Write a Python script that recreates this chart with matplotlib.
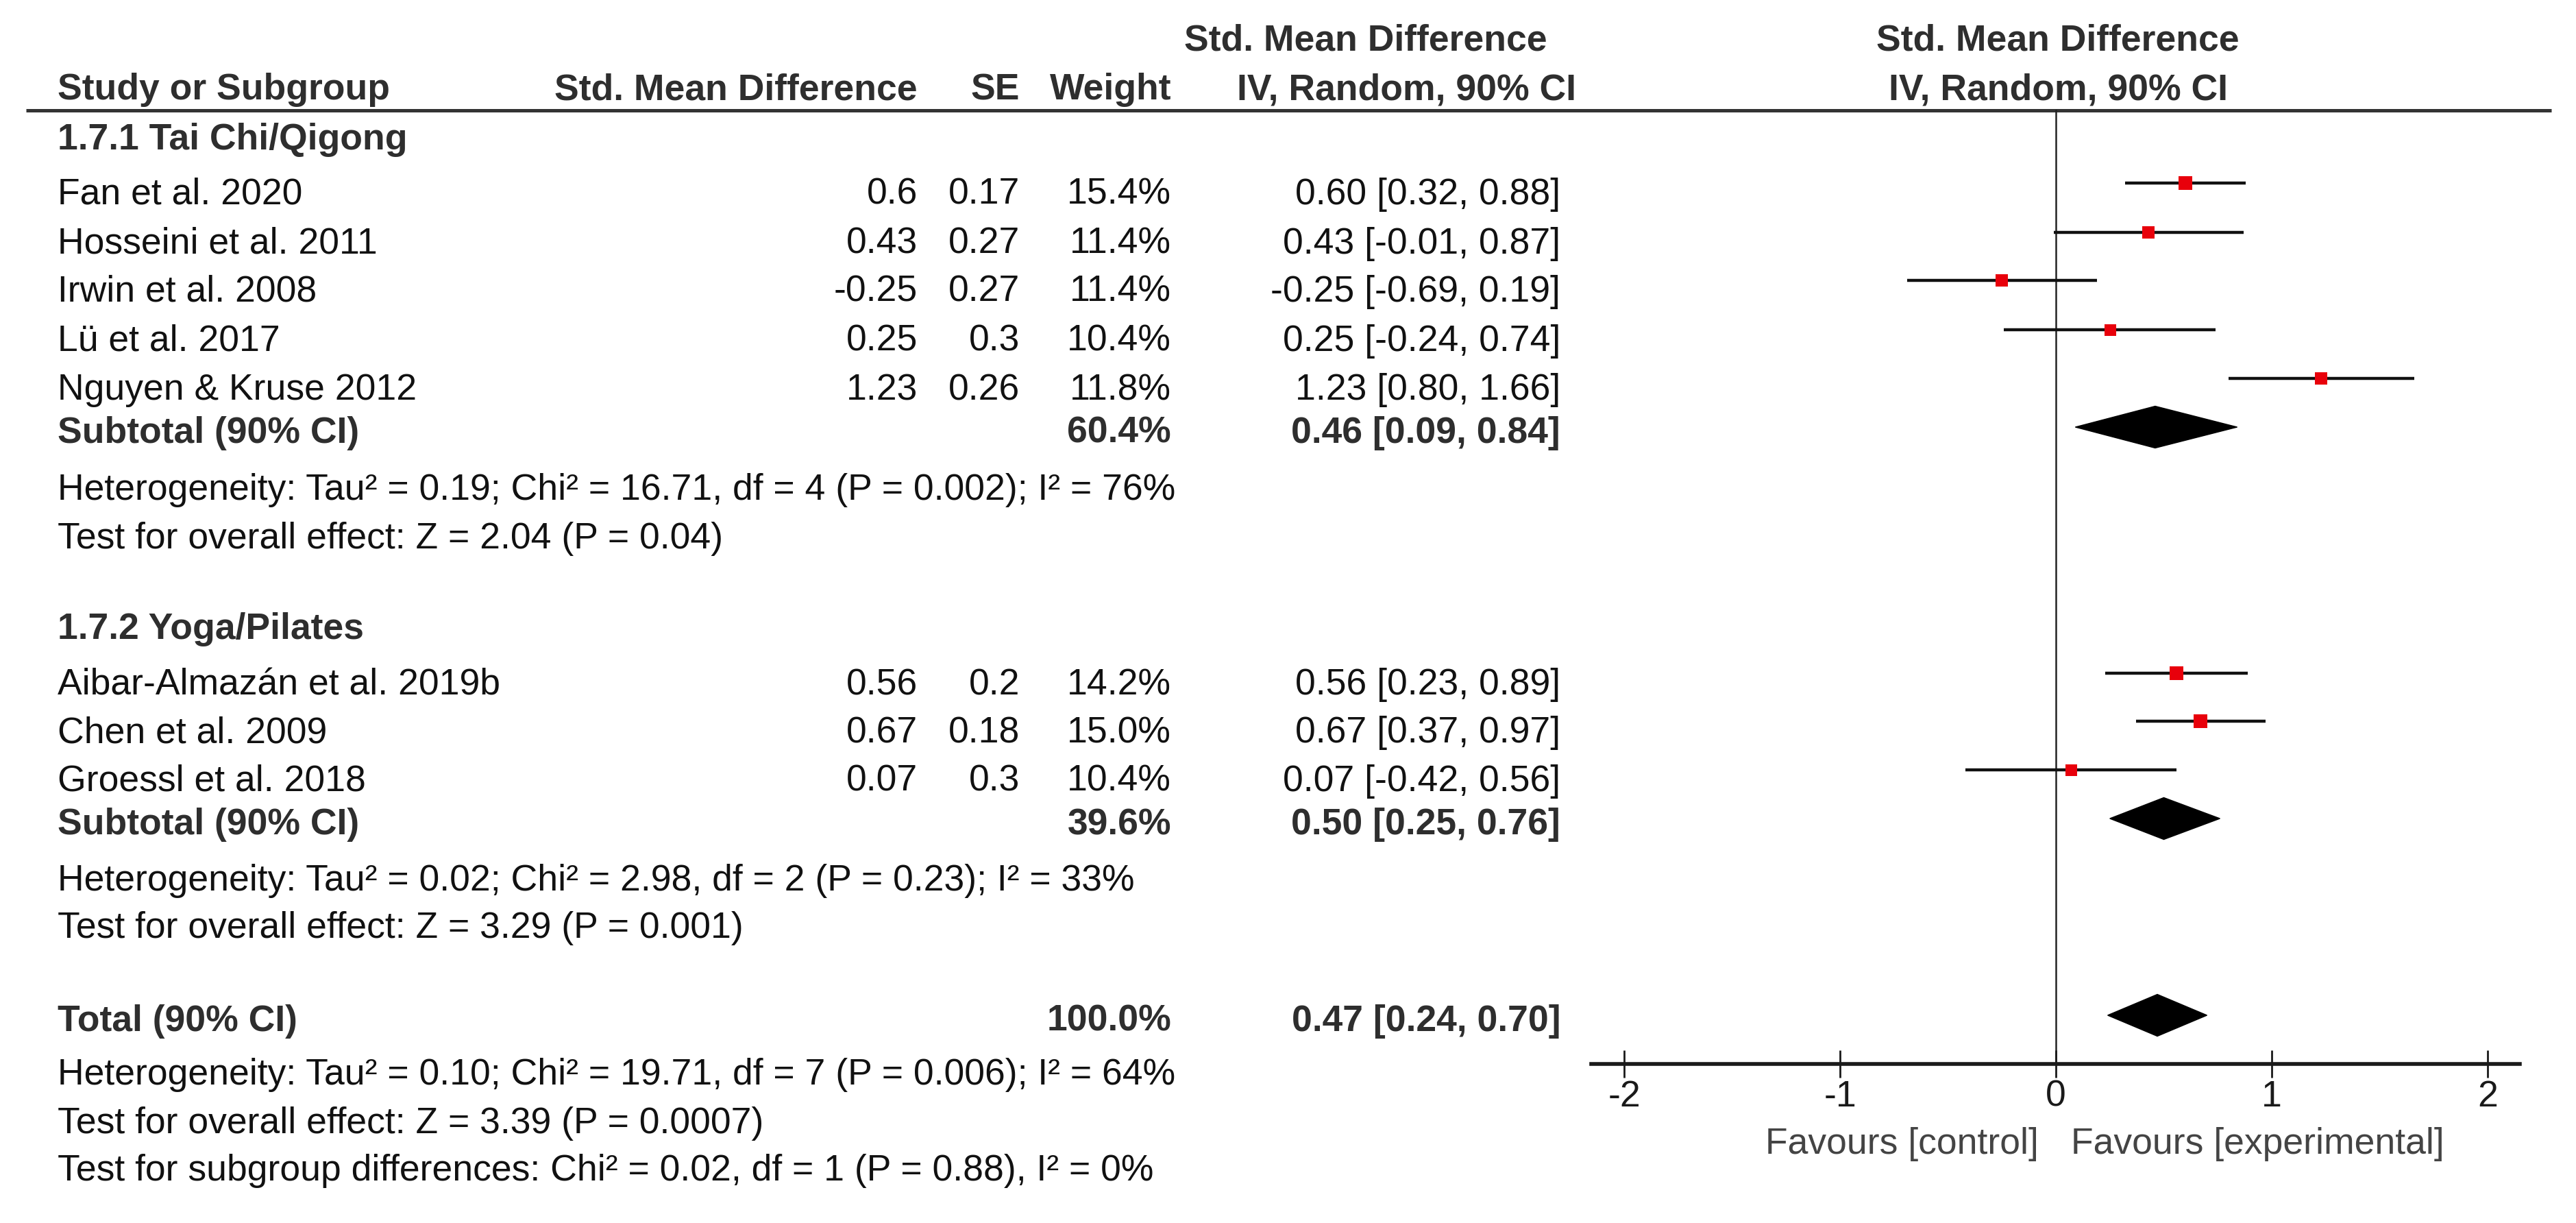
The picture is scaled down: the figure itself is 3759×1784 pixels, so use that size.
import matplotlib.pyplot as plt
from matplotlib.patches import Polygon

plt.rcParams['font.family'] = ['Liberation Sans', 'DejaVu Sans']

# study level data
studies = ['Fan et al. 2020', 'Hosseini et al. 2011', 'Irwin et al. 2008', 'Lü et al. 2017',
           'Nguyen & Kruse 2012', 'Aibar-Almazán et al. 2019b', 'Chen et al. 2009', 'Groessl et al. 2018']
smd = [0.6, 0.43, -0.25, 0.25, 1.23, 0.56, 0.67, 0.07]
se = [0.17, 0.27, 0.27, 0.3, 0.26, 0.2, 0.18, 0.3]
weight = [15.4, 11.4, 11.4, 10.4, 11.8, 14.2, 15.0, 10.4]
ci_low = [0.32, -0.01, -0.69, -0.24, 0.80, 0.23, 0.37, -0.42]
ci_high = [0.88, 0.87, 0.19, 0.74, 1.66, 0.89, 0.97, 0.56]

# subgroups / pooled estimates
subgroups = ['1.7.1 Tai Chi/Qigong', '1.7.2 Yoga/Pilates']
pooled_labels = ['Subtotal (90% CI)', 'Subtotal (90% CI)', 'Total (90% CI)']
pooled_est = [0.46, 0.50, 0.47]
pooled_low = [0.09, 0.25, 0.24]
pooled_high = [0.84, 0.76, 0.70]
pooled_weight = [60.4, 39.6, 100.0]

notes_1 = ['Heterogeneity: Tau² = 0.19; Chi² = 16.71, df = 4 (P = 0.002); I² = 76%',
           'Test for overall effect: Z = 2.04 (P = 0.04)']
notes_2 = ['Heterogeneity: Tau² = 0.02; Chi² = 2.98, df = 2 (P = 0.23); I² = 33%',
           'Test for overall effect: Z = 3.29 (P = 0.001)']
notes_tot = ['Heterogeneity: Tau² = 0.10; Chi² = 19.71, df = 7 (P = 0.006); I² = 64%',
             'Test for overall effect: Z = 3.39 (P = 0.0007)',
             'Test for subgroup differences: Chi² = 0.02, df = 1 (P = 0.88), I² = 0%']

xticks = [-2, -1, 0, 1, 2]

# layout (pixel baselines of each text row)
W, H = 3759, 1784
study_rows = [298, 370, 440, 512, 583, 1013, 1083, 1154]
subgroup_rows = [218, 932]
pooled_rows = [646, 1217, 1504]
notes_rows = [[729, 800], [1299, 1368], [1582, 1653, 1722]]
X_NAME, X_SMD, X_SE, X_W, X_CI = 84, 1339, 1488, 1709, 2277
FS = 38.5
TXT = '#111111'
HDR = '#2e2e2e'

fig = plt.figure(figsize=(W / 100, H / 100), dpi=100)
tab = fig.add_axes([0, 0, 1, 1])
tab.set_xlim(0, W)
tab.set_ylim(H, 0)
tab.axis('off')

# forest panel, y in the same pixel units as the table
AX_L, AX_R, AX_TOP, AX_BOT = 2322, 3677, 160, 1552
ax = fig.add_axes([AX_L / W, 1 - AX_BOT / H, (AX_R - AX_L) / W, (AX_BOT - AX_TOP) / H])
ax.set_xlim((AX_L - 3000) / 315, (AX_R - 3000) / 315)
ax.set_ylim(AX_BOT, AX_TOP)
ax.patch.set_alpha(0)


def t(x, y, s, ha='left', bold=False, color=TXT):
    tab.text(x, y, s, ha=ha, va='baseline', fontsize=FS,
             fontweight='bold' if bold else 'normal', color=color)


# headers
t(2258, 73, 'Std. Mean Difference', ha='right', bold=True, color=HDR)
t(3003, 73, 'Std. Mean Difference', ha='center', bold=True, color=HDR)
t(X_NAME, 145, 'Study or Subgroup', bold=True, color=HDR)
t(X_SMD, 145, 'Std. Mean Difference', ha='right', bold=True, color=HDR)
t(X_SE, 145, 'SE', ha='right', bold=True, color=HDR)
t(X_W, 145, 'Weight', ha='right', bold=True, color=HDR)
t(2300, 145, 'IV, Random, 90% CI', ha='right', bold=True, color=HDR)
t(3003, 145, 'IV, Random, 90% CI', ha='center', bold=True, color=HDR)
tab.plot([38, 3723], [161, 161], color='#333333', lw=3.6, solid_capstyle='butt')

for name, y in zip(subgroups, subgroup_rows):
    t(X_NAME, y, name, bold=True, color=HDR)

# studies
for i, name in enumerate(studies):
    y = study_rows[i]
    t(X_NAME, y, name)
    t(X_SMD, y, f'{smd[i]:g}', ha='right')
    t(X_SE, y, f'{se[i]:g}', ha='right')
    t(X_W, y, f'{weight[i]:.1f}%', ha='right')
    t(X_CI, y, f'{smd[i]:.2f} [{ci_low[i]:.2f}, {ci_high[i]:.2f}]', ha='right')
    ym = y - 31
    ax.plot([ci_low[i], ci_high[i]], [ym, ym], color='#111111', lw=3.2, solid_capstyle='butt', zorder=3)
    side = 17 * (weight[i] / 10.4) ** 0.5
    ax.plot(smd[i], ym, marker='s', color='#e8000b', markersize=side * 0.72,
            markeredgewidth=0, zorder=4)

# pooled rows
for i, lab in enumerate(pooled_labels):
    y = pooled_rows[i]
    t(X_NAME, y, lab, bold=True, color=HDR)
    t(X_W, y, f'{pooled_weight[i]:.1f}%', ha='right', bold=True, color=HDR)
    t(X_CI, y, f'{pooled_est[i]:.2f} [{pooled_low[i]:.2f}, {pooled_high[i]:.2f}]',
      ha='right', bold=True, color=HDR)
    yd = y - 23
    ax.add_patch(Polygon([[pooled_low[i], yd], [pooled_est[i], yd - 30.5],
                          [pooled_high[i], yd], [pooled_est[i], yd + 30.5]],
                         closed=True, color='black', zorder=4))

for lines, ys in zip([notes_1, notes_2, notes_tot], notes_rows):
    for s, y in zip(lines, ys):
        t(X_NAME, y, s)

# axis styling
ax.axvline(0, color='#222222', lw=1.8, zorder=1)
for side_name in ['top', 'left', 'right']:
    ax.spines[side_name].set_visible(False)
ax.spines['bottom'].set_linewidth(4)
ax.spines['bottom'].set_color('#1a1a1a')
ax.set_yticks([])
ax.set_xticks(xticks)
ax.set_xticklabels([str(v) for v in xticks])
ax.tick_params(axis='x', direction='inout', length=29, width=2, colors='#1a1a1a',
               labelsize=FS, pad=2)

ax.text(-0.08, 1683, 'Favours [control]', ha='right', va='baseline', fontsize=FS,
        color='#444444', clip_on=False)
ax.text(0.07, 1683, 'Favours [experimental]', ha='left', va='baseline', fontsize=FS,
        color='#444444', clip_on=False)

fig.savefig('out.png', dpi=100, facecolor='white')
